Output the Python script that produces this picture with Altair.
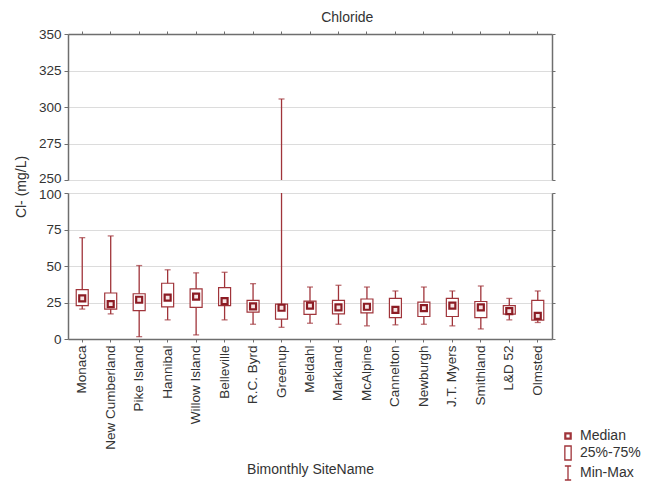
import altair as alt
import pandas as pd

# Chloride concentrations per Ohio River site (bimonthly samples)
sites = ["Monaca", "New Cumberland", "Pike Island", "Hannibal", "Willow Island",
         "Belleville", "R.C. Byrd", "Greenup", "Meldahl", "Markland", "McAlpine",
         "Cannelton", "Newburgh", "J.T. Myers", "Smithland", "L&D 52", "Olmsted"]
min_vals = [20.5, 17.2, 1.6, 13.1, 2.8, 13.1, 10.1, 8.0, 10.8, 10.1, 9.0, 9.7, 10.1, 9.0, 6.9, 13.1, 11.3]
q1_vals = [22.8, 20.5, 19.5, 22.0, 21.6, 22.8, 18.4, 13.6, 16.8, 17.2, 17.9, 14.7, 15.4, 15.4, 14.7, 17.0, 12.9]
median_vals = [27.8, 23.9, 26.9, 28.3, 29.0, 26.0, 22.3, 21.4, 22.8, 21.6, 22.1, 20.0, 21.1, 22.8, 21.6, 19.1, 15.9]
q3_vals = [33.8, 31.5, 31.0, 38.2, 34.3, 35.2, 26.4, 23.9, 26.0, 26.4, 27.4, 27.8, 25.3, 27.8, 25.7, 22.8, 26.4]
max_vals = [69.4, 70.6, 50.3, 47.4, 45.3, 45.7, 37.9, 305.5, 35.6, 36.8, 35.6, 32.9, 35.6, 32.9, 36.3, 27.8, 32.9]

lower_ticks = [0, 25, 50, 75, 100]
upper_ticks = [250, 275, 300, 325, 350]
legend_items = ["Median", "25%-75%", "Min-Max"]

df = pd.DataFrame({"site": sites, "min": min_vals, "q1": q1_vals,
                   "median": median_vals, "q3": q3_vals, "max": max_vals})
legend_df = pd.DataFrame({"item": legend_items})

RED = "#a0343a"
DARK_RED = "#8c1c24"
AXIS_C = "#6e6e6e"
TEXT_C = "#333333"
GRID_C = "#dcdcdc"
FONT = "Liberation Sans"
W, H = 484, 146


def x_enc(orient, show_labels):
    if show_labels:
        ax = alt.Axis(orient=orient, labelAngle=270, labelFontSize=13.5, labelColor=TEXT_C,
                      labelFont=FONT, labelPadding=3, tickSize=3, tickColor=AXIS_C,
                      domainColor=AXIS_C, domainWidth=1.5, grid=False,
                      title="Bimonthly SiteName", titleFontSize=14, titleFont=FONT,
                      titleFontWeight="normal", titleColor=TEXT_C, titlePadding=13)
    else:
        ax = alt.Axis(orient=orient, labels=False, tickSize=3, tickColor=AXIS_C,
                      domainColor=AXIS_C, domainWidth=1.5, grid=False, title=None)
    return alt.X("site:N", sort=sites,
                 scale=alt.Scale(paddingInner=0, paddingOuter=0), axis=ax)


def panel(domain, ticks, x_orient, show_x_labels, y_title, break_value, break_shift,
          hide_grid_at, with_legend):
    yscale = alt.Scale(domain=domain, nice=False, zero=False)
    left_kwargs = dict(orient="left", values=ticks, grid=True, gridColor=GRID_C,
                       tickSize=4, tickColor=AXIS_C, domainColor=AXIS_C, domainWidth=1.5,
                       labelFontSize=13.5, labelColor=TEXT_C, labelFont=FONT,
                       labelPadding=3, labelOverlap=False)
    # nudge the label next to the axis break away from its neighbour
    left_kwargs["labelOffset"] = {"condition": {"test": f"datum.value == {break_value}",
                                                "value": break_shift}, "value": 0}
    if hide_grid_at is not None:
        left_kwargs["gridOpacity"] = {"condition": {"test": f"datum.value == {hide_grid_at}",
                                                    "value": 0}, "value": 1}
    if y_title:
        left_kwargs.update(title=y_title, titleAngle=270, titleX=-47, titleY=-6.5,
                           titleAlign="center", titleBaseline="middle", titleFontSize=14,
                           titleFont=FONT, titleFontWeight="normal", titleColor=TEXT_C)
    else:
        left_kwargs["title"] = None
    left_axis = alt.Axis(**left_kwargs)
    right_axis = alt.Axis(orient="right", values=ticks, labels=False, grid=False,
                          tickSize=3, tickColor=AXIS_C, domainColor=AXIS_C,
                          domainWidth=1.5, title=None)
    xe = x_enc(x_orient, show_x_labels)
    base = alt.Chart(df)

    whisker = base.mark_rule(color=RED, strokeWidth=1.3, clip=True).encode(
        x=xe, y=alt.Y("min:Q", scale=yscale, axis=left_axis), y2="max:Q")
    cap_lo = base.mark_tick(color=RED, size=6, thickness=1.3, clip=True).encode(
        x=xe, y=alt.Y("min:Q", scale=yscale, axis=None))
    cap_hi = base.mark_tick(color=RED, size=6, thickness=1.3, clip=True).encode(
        x=xe, y=alt.Y("max:Q", scale=yscale, axis=None))
    box = base.mark_bar(size=12, fill="white", stroke=RED, strokeWidth=1.2, clip=True).encode(
        x=xe, y=alt.Y("q1:Q", scale=yscale, axis=right_axis), y2="q3:Q")
    med = base.mark_square(size=36, fill="#f6e4e4", stroke=DARK_RED, strokeWidth=2.2,
                           opacity=1, clip=True).encode(
        x=xe, y=alt.Y("median:Q", scale=yscale, axis=None))
    layers = [whisker, cap_lo, cap_hi, box, med]

    if with_legend:
        shapes = [
            "M-0.45,-0.45H0.45V0.45H-0.45Z M-0.32,-0.32H0.32V0.32H-0.32Z",
            "M-0.45,-1H0.45V1H-0.45Z",
            "M-0.45,-1H0.45M0,-1V1M-0.45,1H0.45",
        ]
        key = alt.Chart(legend_df).mark_point(opacity=0, color=RED).encode(
            shape=alt.Shape("item:N", sort=legend_items,
                            scale=alt.Scale(domain=legend_items, range=shapes),
                            legend=alt.Legend(title=None, orient="none", legendX=492,
                                              legendY=394, padding=0, symbolSize=196,
                                              symbolStrokeColor=RED, symbolFillColor="white",
                                              symbolStrokeWidth=1.3, symbolOpacity=1,
                                              labelFontSize=14, labelFont=FONT,
                                              labelColor=TEXT_C, rowPadding=0,
                                              labelOffset=4)))
        layers.append(key)

    return (alt.layer(*layers)
            .resolve_scale(y="shared")
            .resolve_axis(y="independent")
            .properties(width=W, height=H))


upper = panel([250, 350], upper_ticks, "top", False, None, 250, -1.5, 250, False)
lower = panel([0, 100], lower_ticks, "bottom", True, "Cl- (mg/L)", 100, 1.5, None, True)

chart = alt.vconcat(
    upper, lower, spacing=13, bounds="flush",
    title=alt.Title("Chloride", fontSize=14, font=FONT, fontWeight="normal",
                    color=TEXT_C, anchor="middle", dx=20, offset=2),
    padding={"left": 13, "top": 10, "right": 5, "bottom": 5},
).configure_view(stroke=None).configure(background="white")

chart.save("out.html", embed_options={"renderer": "svg", "actions": False})
